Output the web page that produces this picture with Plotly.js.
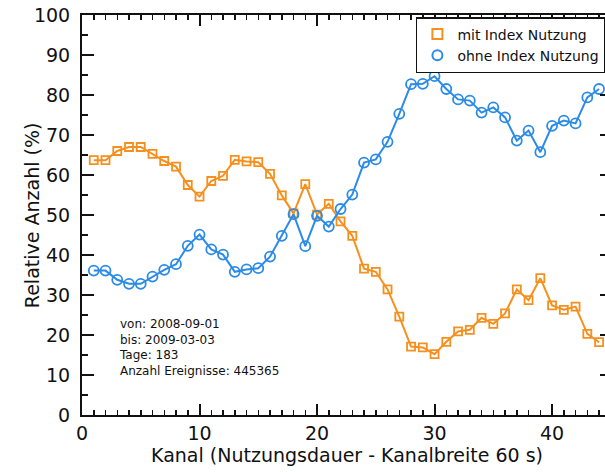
<!DOCTYPE html>
<html>
<head>
<meta charset="utf-8">
<script src="https://cdn.plot.ly/plotly-3.0.1.min.js"></script>
<style>
html, body { margin: 0; padding: 0; overflow: hidden; background: #fff; }
#chart { width: 612px; height: 472px; }
</style>
</head>
<body>
<div id="chart"></div>
<script>
const kanal = [1,2,3,4,5,6,7,8,9,10,11,12,13,14,15,16,17,18,19,20,21,22,23,24,25,26,27,28,29,30,31,32,33,34,35,36,37,38,39,40,41,42,43,44];
const mitIndex = [63.7,63.7,66,67,67,65.3,63.5,62.1,57.5,54.6,58.5,59.8,63.8,63.4,63.2,60.3,54.9,50.4,57.7,50.1,52.8,48.4,44.8,36.6,35.8,31.4,24.6,17.1,16.9,15.2,18.3,20.9,21.3,24.3,22.8,25.4,31.4,28.7,34.2,27.4,26.3,27.1,20.3,18.2];
const ohneIndex = [36.1,36.1,33.8,32.8,32.8,34.6,36.3,37.7,42.3,45.1,41.4,40.1,35.8,36.4,36.7,39.6,44.8,50.2,42.2,49.8,47.1,51.5,55.1,63.1,63.9,68.3,75.3,82.7,82.8,84.7,81.5,78.9,78.6,75.6,76.9,74.4,68.6,71.1,65.7,72.3,73.6,72.9,79.4,81.5];
const seriesNames = ["mit Index Nutzung", "ohne Index Nutzung"];
const infoLines = ["von: 2008-09-01", "bis: 2009-03-03", "Tage: 183", "Anzahl Ereignisse: 445365"];
const xTitle = "Kanal (Nutzungsdauer - Kanalbreite 60 s)";
const yTitle = "Relative Anzahl (%)";

const orange = "#f5901e";
const blue = "#2b8be6";
const font = "DejaVu Sans, sans-serif";

const traces = [
  {x: kanal, y: mitIndex, mode: "lines+markers", showlegend: false,
   line: {color: orange, width: 2},
   marker: {symbol: "square-open", size: 8, color: orange, line: {width: 1.8, color: orange}}},
  {x: kanal, y: ohneIndex, mode: "lines+markers", showlegend: false,
   line: {color: blue, width: 2},
   marker: {symbol: "circle-open", size: 10, color: blue, line: {width: 1.8, color: blue}}},
  {x: [null], y: [null], mode: "markers", name: seriesNames[0],
   marker: {symbol: "square-open", size: 10, color: orange, line: {width: 2, color: orange}}},
  {x: [null], y: [null], mode: "markers", name: seriesNames[1],
   marker: {symbol: "circle-open", size: 10, color: blue, line: {width: 2, color: blue}}}
];

const layout = {
  width: 612, height: 472,
  margin: {l: 82, r: 0, t: 15, b: 57},
  paper_bgcolor: "#fff", plot_bgcolor: "#fff",
  font: {family: font, color: "#111"},
  xaxis: {
    range: [0, 45.1], showgrid: false, zeroline: false,
    showline: true, linecolor: "#111", linewidth: 2, mirror: "ticks",
    ticks: "inside", ticklen: 11, tickwidth: 2, tickcolor: "#111",
    dtick: 10, tick0: 0,
    minor: {dtick: 1, ticks: "inside", ticklen: 5, tickwidth: 1.5, tickcolor: "#111"},
    tickfont: {size: 19, family: font},
    title: {text: xTitle, font: {size: 19, family: font}, standoff: 6}
  },
  yaxis: {
    range: [0, 100], showgrid: false, zeroline: false,
    showline: true, linecolor: "#111", linewidth: 2, mirror: "ticks",
    ticks: "inside", ticklen: 12, tickwidth: 2, tickcolor: "#111",
    dtick: 10, tick0: 0,
    minor: {dtick: 5, ticks: "inside", ticklen: 6, tickwidth: 1.5, tickcolor: "#111"},
    tickfont: {size: 19, family: font},
    ticklabelstandoff: 6
  },
  legend: {
    x: 0.63, xanchor: "left", y: 0.995, yanchor: "top",
    bgcolor: "#fff", bordercolor: "#111", borderwidth: 1.5,
    font: {size: 14, family: font}, tracegroupgap: 0
  },
  annotations: [
    {
      x: 3, y: 25, xref: "x", yref: "y", xanchor: "left", yanchor: "top",
      align: "left", showarrow: false,
      text: infoLines.join("<br>"),
      font: {size: 12, family: font, color: "#111"}
    },
    {
      x: -0.094, y: 0.5, xref: "paper", yref: "paper",
      xanchor: "center", yanchor: "middle", textangle: -90,
      showarrow: false, text: yTitle,
      font: {size: 19, family: font, color: "#111"}
    }
  ]
};

Plotly.newPlot("chart", traces, layout, {displayModeBar: false, staticPlot: true});
</script>
</body>
</html>
